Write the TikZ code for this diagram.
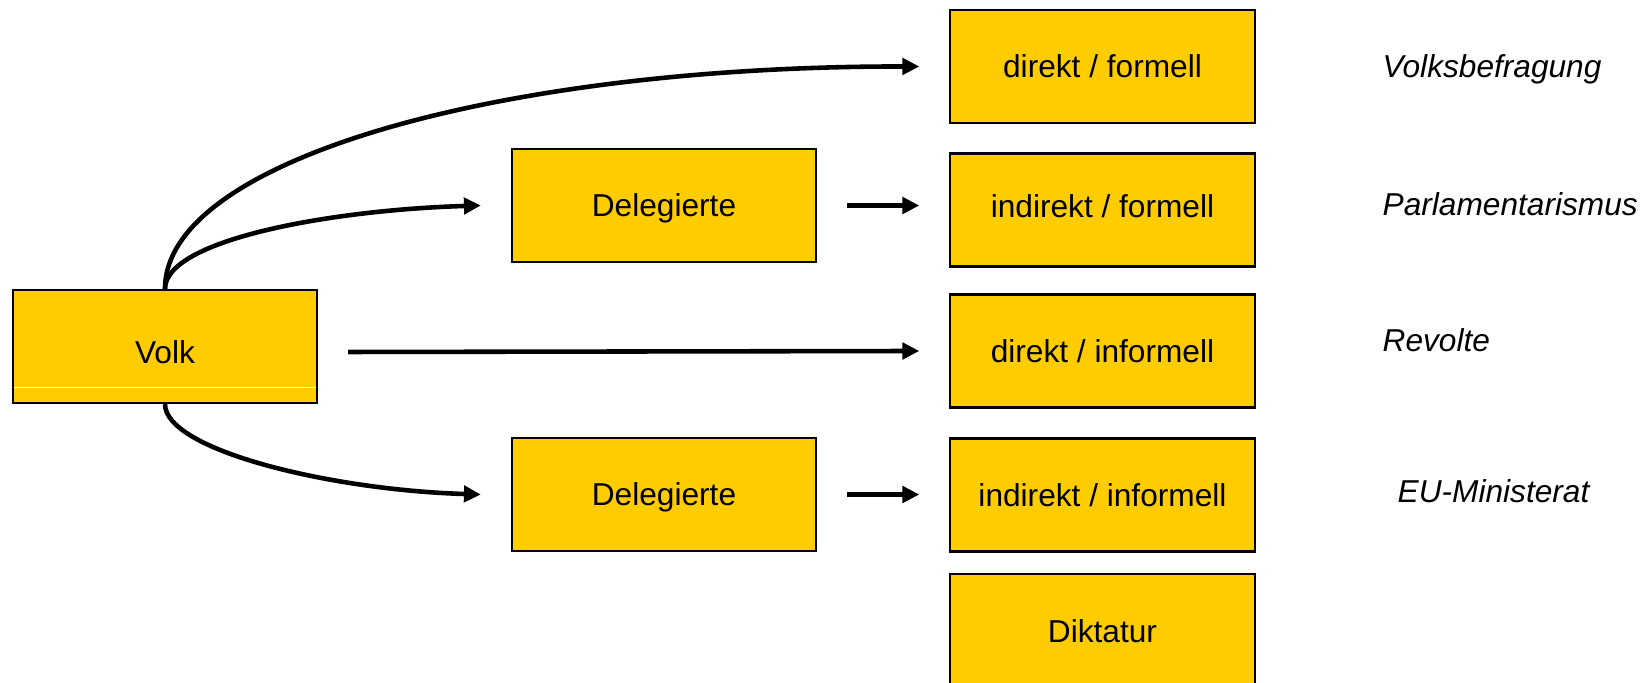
\documentclass[tikz,border=0pt]{standalone}
\usepackage{fontspec}
\setmainfont{Liberation Sans}
\usetikzlibrary{arrows.meta}
\definecolor{kasten}{RGB}{255,204,0}

\begin{document}
\begin{tikzpicture}[x=0.01cm,y=-0.01cm,
        box/.style={draw=black,line width=0.6pt,fill=kasten,minimum width=3.04cm,minimum height=1.13cm,inner sep=0pt,text height=0.23cm,text depth=0pt,font=\fontsize{9pt}{11pt}\selectfont},
        form/.style={anchor=base west,inner sep=0pt,font=\fontsize{9pt}{11pt}\selectfont\itshape},
        pfeil/.style={line width=1.3pt,-{Triangle[length=4.8pt,width=4.6pt]}}]
    \useasboundingbox (0,0) rectangle (1650,683);
    % linke Seite
    \node [box,text height=0.35cm] (volk) at (165,346.5) {Volk};
    \draw [white,line width=0.3pt] ([xshift=0.02cm,yshift=0.17cm]volk.south west) -- ([xshift=-0.02cm,yshift=0.17cm]volk.south east);
    \node [box] (deleg1) at (664,205.5) {Delegierte};
    \node [box] (deleg2) at (664,494.5) {Delegierte};
    % rechte Spalte
    \node [box] (dirform) at (1102.5,66.5) {direkt / formell};
    \node [box,text height=0.15cm] (indform) at (1102.5,210) {indirekt / formell};
    \node [box] (dirinf) at (1102.5,351) {direkt / informell};
    \node [box] (indinf) at (1102.5,495) {indirekt / informell};
    \node [box,text height=0.25cm] (diktatur) at (1102.5,630.5) {Diktatur};
    % Beispiele
    \node [form] (befragung) at (1382,78) {Volksbefragung};
    \node [form] (parlament) at (1382,216) {Parlamentarismus};
    \node [form] (revolte) at (1382,352) {Revolte};
    \node [form] (ministerrat) at (1397,503) {EU-Ministerat};
    % Pfeile
    \draw [pfeil] (volk.north) .. controls (165,160) and (500,66) .. ([xshift=-0.3cm]dirform.west);
    \draw [pfeil] (volk.north) .. controls (165,240) and (330,210) .. ([xshift=-0.3cm]deleg1.west);
    \draw [pfeil] (volk.south) .. controls (165,450) and (330,490) .. ([xshift=-0.3cm]deleg2.west);
    \draw [pfeil] ([xshift=0.3cm,yshift=-0.055cm]volk.east) -- ([xshift=-0.3cm]dirinf.west);
    \draw [pfeil] ([xshift=0.3cm]deleg1.east) -- ([xshift=-0.3cm]deleg1.east -| indform.west);
    \draw [pfeil] ([xshift=0.3cm]deleg2.east) -- ([xshift=-0.3cm]deleg2.east -| indinf.west);
\end{tikzpicture}
\end{document}
